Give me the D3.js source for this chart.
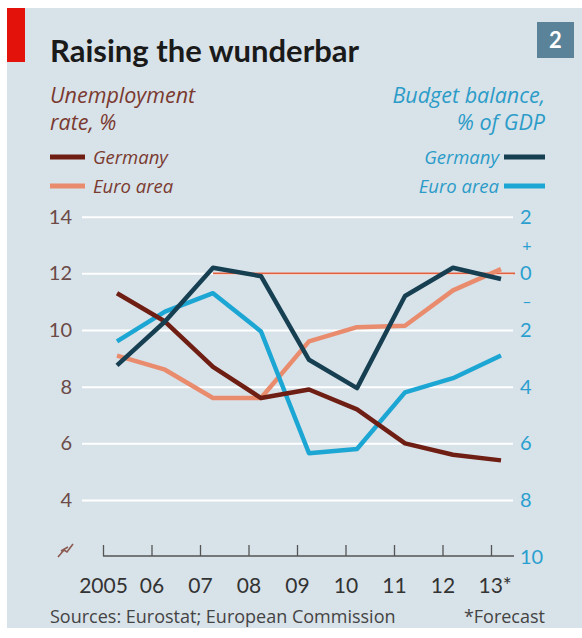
<!DOCTYPE html>
<meta charset="utf-8">
<style>
body { margin: 0; background: #fff; }
svg { font-family: Lato, "Open Sans", sans-serif; }
.axis text { font-size: 20px; font-family: Lato, sans-serif; }
text.it { font-family: "Open Sans", sans-serif; font-style: italic; }
text.foot { font-family: "Open Sans", sans-serif; font-size: 18px; fill: #444; }
</style>
<svg width="582" height="638"></svg>
<script src="https://d3js.org/d3.v7.min.js"></script>
<script>

// years shown on the x axis, 2013 is a forecast
var years = [2005, 2006, 2007, 2008, 2009, 2010, 2011, 2012, 2013];

// unemployment rate, % (left scale)
var unempGermany = [11.3, 10.3, 8.7, 7.6, 7.9, 7.2, 6.0, 5.6, 5.4];
var unempEuro    = [9.1, 8.6, 7.6, 7.6, 9.6, 10.1, 10.15, 11.4, 12.15];

// budget balance, % of GDP (right scale)
var budgetGermany = [-3.25, -1.7, 0.2, -0.1, -3.05, -4.05, -0.8, 0.2, -0.2];
var budgetEuro    = [-2.4, -1.35, -0.7, -2.05, -6.35, -6.2, -4.2, -3.7, -2.9];

var leftTicks = [4, 6, 8, 10, 12, 14];
var rightTicks = [2, 0, -2, -4, -6, -8, -10];

var svg = d3.select("svg");

// background panel + red tag
svg.append("rect").attr("x", 7).attr("y", 8).attr("width", 575).attr("height", 620).attr("fill", "#d8e2e9");
svg.append("rect").attr("x", 7).attr("y", 8).attr("width", 18).attr("height", 54).attr("fill", "#e3120b");

svg.append("text")
	.attr("x", 50).attr("y", 62)
	.attr("font-size", 31).attr("font-weight", "bold")
	.attr("fill", "#1a1a1a")
	.text("Raising the wunderbar");

// chart number box
svg.append("rect").attr("x", 537).attr("y", 22).attr("width", 37).attr("height", 36).attr("fill", "#5a8298");
svg.append("text")
	.attr("x", 555.5).attr("y", 48)
	.attr("text-anchor", "middle")
	.attr("font-size", 22).attr("font-weight", "bold")
	.attr("fill", "#fff")
	.text("2");

// colours
var cGerU = "#6e1e12", cEuroU = "#e98c6e", cGerB = "#163f52", cEuroB = "#1ca6d3";
var leftText = "#7a3a30", rightText = "#2b9cc8";

// subtitles
function subtitle(x, y, anchor, color, txt) {
	svg.append("text").attr("class", "it")
		.attr("x", x).attr("y", y)
		.attr("text-anchor", anchor)
		.attr("font-size", 21.5)
		.attr("fill", color)
		.text(txt);
}
subtitle(50, 103, "start", leftText, "Unemployment");
subtitle(50, 130, "start", leftText, "rate, %");
subtitle(545, 103, "end", rightText, "Budget balance,");
subtitle(545, 130, "end", rightText, "% of GDP");

// legends
var legLeft = [{name: "Germany", color: cGerU}, {name: "Euro area", color: cEuroU}];
var legRight = [{name: "Germany", color: cGerB}, {name: "Euro area", color: cEuroB}];

legLeft.forEach(function(d, i) {
	var y = 157 + i * 29;
	svg.append("line").attr("x1", 50).attr("x2", 85).attr("y1", y).attr("y2", y)
		.attr("stroke", d.color).attr("stroke-width", 5);
	svg.append("text").attr("class", "it").attr("x", 93).attr("y", y + 7)
		.attr("font-size", 18.5).attr("fill", leftText).text(d.name);
});
legRight.forEach(function(d, i) {
	var y = 157 + i * 29;
	svg.append("line").attr("x1", 504).attr("x2", 545).attr("y1", y).attr("y2", y)
		.attr("stroke", d.color).attr("stroke-width", 5);
	svg.append("text").attr("class", "it").attr("x", 499).attr("y", y + 7).attr("text-anchor", "end")
		.attr("font-size", 18.5).attr("fill", rightText).text(d.name);
});

// scales
var yLeft = d3.scaleLinear().domain([2, 14]).range([556.7, 216.7]);
var yRight = d3.scaleLinear().domain([-10, 2]).range([556.7, 216.7]);
var xData = d3.scaleLinear().domain([2005, 2013]).range([117, 501]);
var xTick = d3.scaleLinear().domain([2005, 2013]).range([103, 491]);

// left axis with white gridlines
var gLeft = svg.append("g")
	.attr("class", "axis")
	.attr("transform", "translate(82,0)")
	.call(d3.axisLeft(yLeft).tickValues(leftTicks).tickSize(-431).tickPadding(10));
gLeft.select(".domain").remove();
gLeft.selectAll(".tick line").attr("stroke", "#fff").attr("stroke-width", 2);
gLeft.selectAll(".tick text").attr("fill", "#6b4a47");

// right axis labels
var gRight = svg.append("g")
	.attr("class", "axis")
	.attr("transform", "translate(513,0)")
	.call(d3.axisRight(yRight).tickValues(rightTicks).tickSize(0).tickPadding(7)
		.tickFormat(function(d) { return Math.abs(d); }));
gRight.select(".domain").remove();
gRight.selectAll(".tick text").attr("fill", "#2a9fcf");

// + and - signs around zero
svg.append("text").attr("x", 527).attr("y", yRight(1)).attr("dy", "0.35em")
	.attr("text-anchor", "middle").attr("font-size", 16).attr("fill", "#2a9fcf").text("+");
svg.append("text").attr("x", 527).attr("y", yRight(-1)).attr("dy", "0.35em")
	.attr("text-anchor", "middle").attr("font-size", 16).attr("fill", "#2a9fcf").text("\u2013");

// zero line for budget balance
svg.append("line")
	.attr("x1", xData(2007)).attr("x2", 515)
	.attr("y1", yRight(0)).attr("y2", yRight(0))
	.attr("stroke", "#e2603f").attr("stroke-width", 1.8);

// bottom axis
var gBottom = svg.append("g")
	.attr("class", "axis")
	.attr("transform", "translate(0,556)")
	.call(d3.axisBottom(xTick).tickValues(years).tickSize(-11).tickSizeOuter(0)
		.tickFormat(function(d) {
			if (d == 2005) return "2005";
			var s = String(d).slice(2);
			return d == 2013 ? s + "*" : s;
		}));
gBottom.select(".domain").remove();
gBottom.selectAll(".tick line").attr("stroke", "#555").attr("stroke-width", 1.3);
gBottom.selectAll(".tick text").attr("y", 37).attr("dy", 0).attr("fill", "#333").style("font-size", "21px");
gBottom.selectAll(".tick:last-of-type text").attr("text-anchor", "start").attr("dx", -13);
gBottom.append("line").attr("x1", 103).attr("x2", 514).attr("y1", 0).attr("y2", 0)
	.attr("stroke", "#555").attr("stroke-width", 1.3);

// axis break mark
svg.append("path")
	.attr("d", "M58,557 L64,550 L67,552 L73,544 M61,551 L68,547")
	.attr("fill", "none").attr("stroke", "#8a5a50").attr("stroke-width", 1.6);

// lines
var lineLeft = d3.line().x(function(d, i) { return xData(years[i]); }).y(function(d) { return yLeft(d); });
var lineRight = d3.line().x(function(d, i) { return xData(years[i]); }).y(function(d) { return yRight(d); });

var series = [
	{values: unempEuro, line: lineLeft, color: cEuroU},
	{values: budgetEuro, line: lineRight, color: cEuroB},
	{values: unempGermany, line: lineLeft, color: cGerU},
	{values: budgetGermany, line: lineRight, color: cGerB}
];

svg.selectAll("path.series")
	.data(series)
	.enter().append("path")
	.attr("class", "series")
	.attr("d", function(d) { return d.line(d.values); })
	.attr("fill", "none")
	.attr("stroke", function(d) { return d.color; })
	.attr("stroke-width", 4.5)
	.attr("stroke-linejoin", "round");

// footer
svg.append("text").attr("class", "foot").attr("x", 50).attr("y", 623)
	.text("Sources: Eurostat; European Commission");
svg.append("text").attr("class", "foot").attr("x", 545).attr("y", 623).attr("text-anchor", "end")
	.text("*Forecast");

</script>
